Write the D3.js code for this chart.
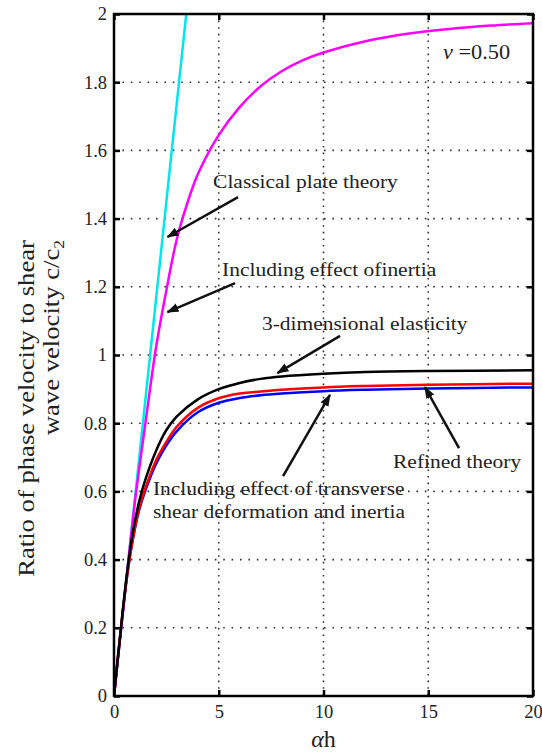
<!DOCTYPE html>
<html>
<head>
<meta charset="utf-8">
<script src="https://cdn.jsdelivr.net/npm/d3@7/dist/d3.min.js"></script>
<style>
  body { margin: 0; background: #fff; }
  svg text { font-family: "Liberation Serif", "Times New Roman", serif; }
</style>
</head>
<body>
<div id="chart"></div>
<script>
// values (alpha*h, c/c2)
const xTicks = [0, 5, 10, 15, 20];
const yTicks = [0, 0.2, 0.4, 0.6, 0.8, 1, 1.2, 1.4, 1.6, 1.8, 2];

const classical = [[0, 0], [1, 0.58], [2, 1.16], [3, 1.74], [3.45, 2.0]];
const inertia = [[0, 0], [0.5, 0.29], [1, 0.57], [1.5, 0.8], [2, 1.02], [2.5, 1.19], [3, 1.34], [3.5, 1.445],
  [4, 1.53], [5, 1.645], [6, 1.727], [7, 1.788], [8, 1.832], [9, 1.864], [10, 1.887], [12, 1.92], [14, 1.942],
  [16, 1.956], [18, 1.966], [20, 1.973]];
const elastic3d = [[0, 0], [0.3, 0.18], [0.6, 0.35], [0.9, 0.48], [1.2, 0.57], [1.5, 0.635], [2, 0.718], [2.5, 0.78],
  [3, 0.82], [4, 0.87], [5, 0.9], [6, 0.918], [7, 0.93], [8, 0.937], [10, 0.945], [12, 0.95], [15, 0.953], [20, 0.955]];
const refined = [[0, 0], [0.3, 0.18], [0.6, 0.34], [0.9, 0.46], [1.2, 0.55], [1.5, 0.61], [2, 0.69], [2.5, 0.745],
  [3, 0.79], [4, 0.845], [5, 0.873], [6, 0.887], [7, 0.893], [8, 0.898], [10, 0.905], [12, 0.909], [15, 0.913], [20, 0.916]];
const shearInertia = [[0, 0], [0.3, 0.18], [0.6, 0.34], [0.9, 0.46], [1.2, 0.545], [1.5, 0.603], [2, 0.68], [2.5, 0.735],
  [3, 0.777], [4, 0.832], [5, 0.86], [6, 0.874], [7, 0.882], [8, 0.887], [10, 0.894], [12, 0.898], [15, 0.902], [20, 0.905]];

const margin = { top: 14, right: 9, bottom: 59, left: 114 };
const W = 542, H = 755;
const width = W - margin.left - margin.right;
const height = H - margin.top - margin.bottom;

const svg = d3.select("#chart").append("svg")
  .attr("width", W)
  .attr("height", H);

const defs = svg.append("defs");
defs.append("clipPath").attr("id", "plot")
  .append("rect").attr("width", width).attr("height", height);
defs.append("marker")
  .attr("id", "arrow")
  .attr("viewBox", "0 -5 12 10")
  .attr("refX", 11).attr("refY", 0)
  .attr("markerWidth", 12).attr("markerHeight", 10)
  .attr("markerUnits", "userSpaceOnUse")
  .attr("orient", "auto")
  .append("path").attr("d", "M0,-4.5L12,0L0,4.5Z").attr("fill", "#111");

const g = svg.append("g")
  .attr("transform", "translate(" + margin.left + "," + margin.top + ")");

let x = d3.scaleLinear().domain([0, 20]).range([0, width]);
let y = d3.scaleLinear().domain([0, 2]).range([height, 0]);

// dotted grid
g.append("g").selectAll("line")
  .data(yTicks.slice(1, -1))
  .enter().append("line")
  .attr("x1", 0).attr("x2", width)
  .attr("y1", d => y(d)).attr("y2", d => y(d))
  .attr("stroke", "#333").attr("stroke-width", 1.6)
  .attr("stroke-dasharray", "1.6,6.8");
g.append("g").selectAll("line")
  .data(xTicks.slice(1, -1))
  .enter().append("line")
  .attr("y1", 0).attr("y2", height)
  .attr("x1", d => x(d)).attr("x2", d => x(d))
  .attr("stroke", "#333").attr("stroke-width", 1.6)
  .attr("stroke-dasharray", "1.6,5");

// axes, ticks pointing inward
let xAxis = d3.axisBottom(x).tickValues(xTicks).tickSize(-6).tickPadding(9).tickFormat(d3.format("d"));
let yAxis = d3.axisLeft(y).tickValues(yTicks).tickSize(-6).tickPadding(7).tickFormat(d => d3.format("")(d));

function styleAxis(sel, showText) {
  sel.attr("font-family", null);
  sel.select(".domain").remove();
  sel.selectAll(".tick line").attr("stroke", "#000").attr("stroke-width", 2.5);
  sel.selectAll("text")
    .style("font-size", "18.5px")
    .style("fill", "#222")
    .style("display", showText ? null : "none");
}

g.append("g").attr("transform", "translate(0," + height + ")").call(xAxis).call(s => styleAxis(s, true));
g.append("g").call(d3.axisTop(x).tickValues(xTicks).tickSize(-6)).call(s => styleAxis(s, false));
g.append("g").call(yAxis).call(s => styleAxis(s, true));
g.append("g").attr("transform", "translate(" + width + ",0)")
  .call(d3.axisRight(y).tickValues(yTicks).tickSize(-6)).call(s => styleAxis(s, false));

// curves
let line = d3.line()
  .x(d => x(d[0]))
  .y(d => y(d[1]))
  .curve(d3.curveCatmullRom.alpha(0.5));

const series = [
  { data: classical, color: "#00e5ee" },
  { data: inertia, color: "#ff00ff" },
  { data: shearInertia, color: "#0000ff" },
  { data: refined, color: "#ff0000" },
  { data: elastic3d, color: "#000000" }
];

const curves = g.append("g").attr("clip-path", "url(#plot)");
curves.selectAll("path")
  .data(series)
  .enter().append("path")
  .attr("d", d => line(d.data))
  .attr("fill", "none")
  .attr("stroke", d => d.color)
  .attr("stroke-width", 2.5);

// frame
g.append("rect")
  .attr("width", width).attr("height", height)
  .attr("fill", "none").attr("stroke", "#000").attr("stroke-width", 2.5);

// annotations (data coordinates); text is a bit wide in the original, so stretch it
const notes = [
  { text: ["Classical plate theory"], at: [4.73, 1.49], from: [5.92, 1.463], to: [2.55, 1.346] },
  { text: ["Including effect ofinertia"], at: [5.16, 1.232], from: [5.78, 1.211], to: [2.55, 1.126] },
  { text: ["3-dimensional elasticity"], at: [7.06, 1.073], from: [10.79, 1.056], to: [7.8, 0.947] },
  { text: ["Refined theory"], at: [13.32, 0.669], from: [16.47, 0.727], to: [14.84, 0.906] },
  { text: ["Including effect of transverse", "shear deformation and inertia"], at: [1.86, 0.589], from: [8.07, 0.645], to: [10.31, 0.883] }
];

notes.forEach(function (n) {
  const t = g.append("text")
    .attr("transform", "translate(" + x(n.at[0]) + "," + y(n.at[1]) + ") scale(1.13,1)")
    .style("font-size", "19px")
    .style("fill", "#222");
  n.text.forEach(function (s, i) {
    t.append("tspan").attr("x", 0).attr("y", i * 23).text(s);
  });
  g.append("line")
    .attr("x1", x(n.from[0])).attr("y1", y(n.from[1]))
    .attr("x2", x(n.to[0])).attr("y2", y(n.to[1]))
    .attr("stroke", "#111").attr("stroke-width", 2.5)
    .attr("marker-end", "url(#arrow)");
});

const nu = g.append("text")
  .attr("transform", "translate(" + x(15.7) + "," + y(1.868) + ") scale(1.12,1)")
  .style("font-size", "20px").style("fill", "#222");
nu.append("tspan").style("font-style", "italic").text("ν");
nu.append("tspan").text(" =0.50");

// axis titles
svg.append("text")
  .attr("x", margin.left + x(10)).attr("y", 747)
  .attr("text-anchor", "middle")
  .style("font-size", "24px").style("fill", "#222")
  .call(t => {
    t.append("tspan").style("font-style", "italic").text("α");
    t.append("tspan").text("h");
  });

const ylab = svg.append("text")
  .attr("transform", "translate(34,240) rotate(-90) scale(1.16,1)")
  .attr("text-anchor", "end")
  .style("font-size", "23px").style("fill", "#222");
ylab.append("tspan").attr("x", 0).attr("y", 0).text("Ratio of phase velocity to shear");
const l2 = ylab.append("tspan").attr("x", 0).attr("y", 25);
l2.append("tspan").text("wave velocity c/c");
l2.append("tspan").style("font-size", "15px").attr("dy", 5).text("2");
</script>
</body>
</html>
